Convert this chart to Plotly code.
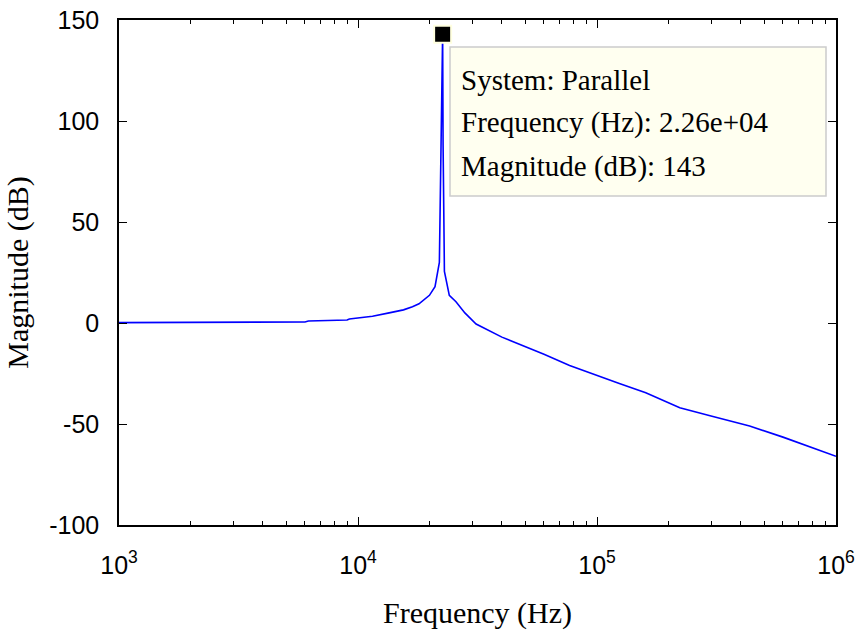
import plotly.graph_objects as go

# ---- data ----
freq_hz = [1000, 3000, 6000, 6200, 9000, 9200, 11500, 13500, 15500, 16900, 18000,
           19900, 21000, 21900, 22600, 22700, 22990, 24100, 25700, 28000, 31200,
           40000, 47400, 60000, 76800, 100000, 124000, 160000, 222000, 300000,
           435000, 600000, 1000000]
mag_db = [0.2, 0.3, 0.5, 1.0, 1.5, 2.0, 3.3, 5.0, 6.5, 8.0, 9.5,
          13.7, 18.0, 30.0, 143.0, 88.0, 25.5, 13.7, 10.5, 5.0, -0.5,
          -7.0, -10.5, -15.5, -21.0, -26.0, -30.0, -34.5, -42.0, -46.0,
          -51.0, -56.5, -66.0]

peak_freq = [22600]
peak_mag = [143]

tip_lines = ["System: Parallel", "Frequency (Hz): 2.26e+04", "Magnitude (dB): 143"]

x_major = [1e3, 1e4, 1e5, 1e6]
x_major_text = ["10<sup>3</sup>", "10<sup>4</sup>", "10<sup>5</sup>", "10<sup>6</sup>"]
x_minor = [m * d for d in (1e3, 1e4, 1e5) for m in range(2, 10)]
y_ticks = [-100, -50, 0, 50, 100, 150]
y_tick_text = ["-100", "-50", "0", "50", "100", "150"]

# ---- layout geometry ----
W, H = 862, 642
ML, MR, MT, MB = 119, 26, 20, 117
PW, PH = W - ML - MR, H - MT - MB


def px(xp):
    return (xp - ML) / PW


def py(yp):
    return (H - MB - yp) / PH


fig = go.Figure()
fig.add_trace(go.Scatter(x=freq_hz, y=mag_db, mode="lines",
                         line=dict(color="#0000FF", width=1.6),
                         hoverinfo="skip", showlegend=False))
fig.add_trace(go.Scatter(x=peak_freq, y=peak_mag, mode="markers",
                         marker=dict(symbol="square", size=17, color="black",
                                     line=dict(color="#FFFFE0", width=2)),
                         hoverinfo="skip", showlegend=False, cliponaxis=False))

tick_font = dict(family="Liberation Sans, Arial, sans-serif", size=25, color="black")
title_font = dict(family="Liberation Serif, Times New Roman, serif", size=30, color="black")

fig.update_layout(
    width=W, height=H,
    margin=dict(l=ML, r=MR, t=MT, b=MB, pad=0, autoexpand=False),
    paper_bgcolor="white", plot_bgcolor="white",
    xaxis=dict(type="log", range=[3, 6], tickvals=x_major, ticktext=x_major_text,
               ticks="inside", ticklen=8, tickwidth=1, tickcolor="black",
               showline=True, linecolor="black", linewidth=1.5, mirror="ticks",
               showgrid=False, zeroline=False, tickfont=tick_font,
               ticklabelstandoff=17, automargin=False,
               minor=dict(tickvals=x_minor, ticks="inside", ticklen=4,
                          tickwidth=1, tickcolor="black", showgrid=False),
               title=dict(text="Frequency (Hz)", font=title_font, standoff=24)),
    yaxis=dict(range=[-100, 150], tickvals=y_ticks, ticktext=y_tick_text,
               ticks="inside", ticklen=8, tickwidth=1, tickcolor="black",
               showline=True, linecolor="black", linewidth=1.5, mirror="ticks",
               showgrid=False, zeroline=False, tickfont=tick_font,
               ticklabelstandoff=13, automargin=False,
               title=dict(text="Magnitude (dB)", font=title_font, standoff=12)),
)

# data tip box
fig.add_shape(type="rect", xref="paper", yref="paper",
              x0=px(450), x1=px(826), y0=py(196), y1=py(47),
              fillcolor="#FFFFF0", line=dict(color="#CCCCCC", width=1.5),
              layer="above")
tip_font = dict(family="Liberation Serif, Times New Roman, serif", size=29, color="black")
for i, t in enumerate(tip_lines):
    fig.add_annotation(xref="paper", yref="paper", x=px(459), y=py(80 + 43 * i),
                       xanchor="left", yanchor="middle", text=t, showarrow=False,
                       font=tip_font)

fig.write_html("out.html")
